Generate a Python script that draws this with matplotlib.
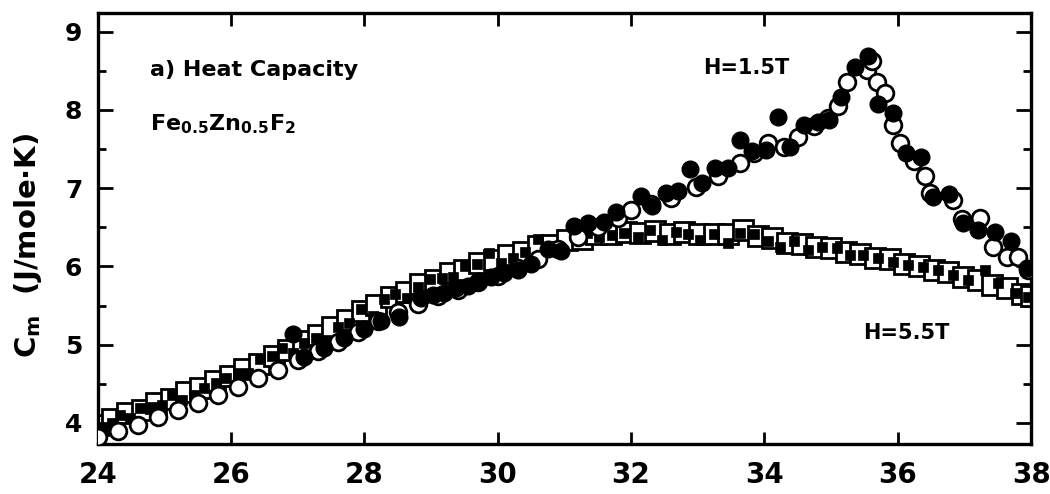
import matplotlib
matplotlib.use("Agg")
import matplotlib.pyplot as plt
from matplotlib.ticker import MultipleLocator

plt.rcParams.update({"font.family": "DejaVu Sans", "mathtext.default": "regular"})

# H = 1.5 T, run 1 (filled circles)
t_fc = [26.93,
        27.10, 27.40, 27.70, 28.00, 28.25, 28.52, 28.85, 29.03, 29.19, 29.37,
        29.55, 29.72, 29.90, 30.10, 30.30, 30.50, 30.75, 30.95, 31.14, 31.35,
        31.59, 31.77, 32.15, 32.32, 32.52, 32.70, 32.89, 33.07, 33.26, 33.45,
        33.64, 33.82, 34.02, 34.21, 34.39, 34.59, 34.80, 34.97, 35.15, 35.36,
        35.55, 35.71, 35.93, 36.13, 36.35, 36.53, 36.77, 36.98, 37.21, 37.46,
        37.70, 37.94]
c_fc = [5.14,
        4.84, 4.96, 5.08, 5.20, 5.30, 5.35, 5.60, 5.64, 5.66, 5.73,
        5.75, 5.82, 5.87, 5.92, 5.96, 6.03, 6.22, 6.20, 6.52, 6.56,
        6.57, 6.69, 6.90, 6.77, 6.94, 6.97, 7.24, 7.07, 7.26, 7.26,
        7.61, 7.47, 7.49, 7.91, 7.53, 7.81, 7.84, 7.87, 8.16, 8.55,
        8.69, 8.07, 7.96, 7.45, 7.40, 6.89, 6.93, 6.56, 6.47, 6.44,
        6.33, 5.98]

# H = 1.5 T, run 2 (open circles)
t_oc = [24.00, 24.30, 24.60, 24.90, 25.20, 25.50, 25.80, 26.10, 26.40, 26.70,
        27.00, 27.30, 27.60, 27.90, 28.20, 28.50, 28.80, 29.10, 29.40, 29.70,
        30.00, 30.30, 30.60, 30.90, 31.20, 31.50, 31.80, 32.00, 32.30, 32.60,
        32.97, 33.30, 33.64, 33.85, 34.05, 34.29, 34.50, 34.74, 34.95, 35.10,
        35.24, 35.54, 35.62, 35.69, 35.81, 35.93, 36.04, 36.25, 36.41, 36.49,
        36.83, 36.97, 37.24, 37.43, 37.64, 37.80, 37.95]
c_oc = [3.82, 3.90, 3.98, 4.07, 4.16, 4.26, 4.36, 4.46, 4.57, 4.68,
        4.80, 4.92, 5.04, 5.16, 5.30, 5.42, 5.52, 5.62, 5.70, 5.80,
        5.88, 5.98, 6.10, 6.22, 6.38, 6.50, 6.62, 6.72, 6.80, 6.88,
        7.02, 7.15, 7.32, 7.45, 7.58, 7.53, 7.66, 7.79, 7.90, 8.05,
        8.36, 8.51, 8.62, 8.36, 8.22, 7.81, 7.58, 7.35, 7.15, 6.94,
        6.85, 6.60, 6.62, 6.25, 6.12, 6.12, 5.95]

# H = 5.5 T, run 1 (filled squares)
t_fs = [24.06, 24.21, 24.34, 24.49, 24.64, 24.81, 24.96, 25.11, 25.27, 25.44,
        25.60, 25.77, 25.93, 26.10, 26.26, 26.43, 26.61, 26.77, 26.93, 27.10,
        27.28, 27.43, 27.61, 27.77, 27.95, 28.13, 28.30, 28.46, 28.64, 28.81,
        28.99, 29.17, 29.33, 29.51, 29.69, 29.87, 30.05, 30.23, 30.41, 30.60,
        30.78, 30.95, 31.14, 31.34, 31.52, 31.71, 31.89, 32.10, 32.29, 32.47,
        32.67, 32.86, 33.04, 33.24, 33.45, 33.64, 33.84, 34.05, 34.24, 34.44,
        34.66, 34.87, 35.09, 35.29, 35.48, 35.71, 35.93, 36.16, 36.38, 36.61,
        36.83, 37.06, 37.31, 37.51, 37.76, 37.95]
c_fs = [3.95, 4.00, 4.10, 4.06, 4.19, 4.20, 4.23, 4.36, 4.29, 4.36,
        4.45, 4.51, 4.58, 4.64, 4.64, 4.82, 4.86, 4.96, 4.90, 5.02,
        5.09, 5.06, 5.23, 5.28, 5.45, 5.37, 5.59, 5.65, 5.60, 5.74,
        5.84, 5.85, 5.87, 6.01, 6.03, 6.17, 6.05, 6.11, 6.19, 6.35,
        6.26, 6.17, 6.40, 6.43, 6.38, 6.40, 6.43, 6.38, 6.46, 6.34,
        6.44, 6.42, 6.34, 6.42, 6.30, 6.43, 6.42, 6.32, 6.25, 6.32,
        6.21, 6.25, 6.24, 6.14, 6.15, 6.11, 6.06, 6.02, 5.99, 5.96,
        5.89, 5.83, 5.96, 5.79, 5.66, 5.61]

# H = 5.5 T, run 2 (open squares)
t_os = [24.00, 24.22, 24.44, 24.66, 24.88, 25.10, 25.32, 25.54, 25.76, 25.98,
        26.20, 26.42, 26.64, 26.86, 27.08, 27.30, 27.52, 27.74, 27.96, 28.18,
        28.40, 28.62, 28.84, 29.06, 29.28, 29.50, 29.72, 29.94, 30.16, 30.38,
        30.60, 30.82, 31.04, 31.26, 31.48, 31.70, 31.92, 32.14, 32.36, 32.58,
        32.80, 33.02, 33.24, 33.46, 33.68, 33.90, 34.12, 34.34, 34.56, 34.78,
        35.00, 35.22, 35.44, 35.66, 35.88, 36.10, 36.32, 36.54, 36.76, 36.98,
        37.20, 37.42, 37.64, 37.86, 38.00]
c_os = [3.98, 4.05, 4.13, 4.17, 4.26, 4.31, 4.39, 4.45, 4.54, 4.60,
        4.69, 4.75, 4.86, 4.93, 5.05, 5.12, 5.23, 5.31, 5.43, 5.51,
        5.61, 5.67, 5.77, 5.83, 5.91, 5.96, 6.04, 6.08, 6.15, 6.19,
        6.26, 6.28, 6.34, 6.35, 6.41, 6.41, 6.44, 6.43, 6.45, 6.42,
        6.44, 6.41, 6.42, 6.41, 6.47, 6.39, 6.36, 6.30, 6.29, 6.25,
        6.24, 6.18, 6.16, 6.11, 6.09, 6.03, 6.01, 5.95, 5.93, 5.87,
        5.83, 5.76, 5.73, 5.65, 5.62]

x_ticks = [24, 26, 28, 30, 32, 34, 36, 38]
y_ticks = [4, 5, 6, 7, 8, 9]

fig = plt.figure(figsize=(10.5, 4.94), dpi=100)
ax = fig.add_axes([0.093, 0.101, 0.889, 0.873])

ax.plot(t_os, c_os, ls="none", marker="s", ms=15, mfc="white", mec="black", mew=2.0, zorder=2)
ax.plot(t_fs, c_fs, ls="none", marker="s", ms=7, mfc="black", mec="black", mew=0.5, zorder=3)
ax.plot(t_oc, c_oc, ls="none", marker="o", ms=12, mfc="white", mec="black", mew=2.0, zorder=4)
ax.plot(t_fc, c_fc, ls="none", marker="o", ms=12, mfc="black", mec="black", mew=1.0, zorder=5)

ax.set_xlim(24, 38)
ax.set_ylim(3.73, 9.24)
ax.set_xticks(x_ticks)
ax.set_yticks(y_ticks)
ax.yaxis.set_minor_locator(MultipleLocator(0.5))

for sp in ax.spines.values():
    sp.set_linewidth(2.4)
ax.tick_params(axis="both", which="both", direction="in", top=True, right=True, width=2.0)
ax.tick_params(axis="y", which="major", length=11, labelsize=18, pad=11)
ax.tick_params(axis="y", which="minor", length=6)
ax.tick_params(axis="x", which="major", length=9, labelsize=20, pad=12)
for lbl in ax.get_xticklabels() + ax.get_yticklabels():
    lbl.set_fontweight("bold")

ax.set_ylabel("C$_m$  (J/mole\u00b7K)", fontsize=21, fontweight="bold")
ax.yaxis.set_label_coords(-0.058, 0.46)

ax.text(0.056, 0.868, "a) Heat Capacity", transform=ax.transAxes,
        fontsize=16, fontweight="bold", va="center")
ax.text(0.056, 0.742, r"Fe$_{0.5}$Zn$_{0.5}$F$_2$", transform=ax.transAxes,
        fontsize=16, fontweight="bold", va="center")
ax.text(0.649, 0.872, "H=1.5T", transform=ax.transAxes,
        fontsize=15, fontweight="bold", va="center")
ax.text(0.820, 0.258, "H=5.5T", transform=ax.transAxes,
        fontsize=15, fontweight="bold", va="center")

fig.savefig("out.png", dpi=100)
